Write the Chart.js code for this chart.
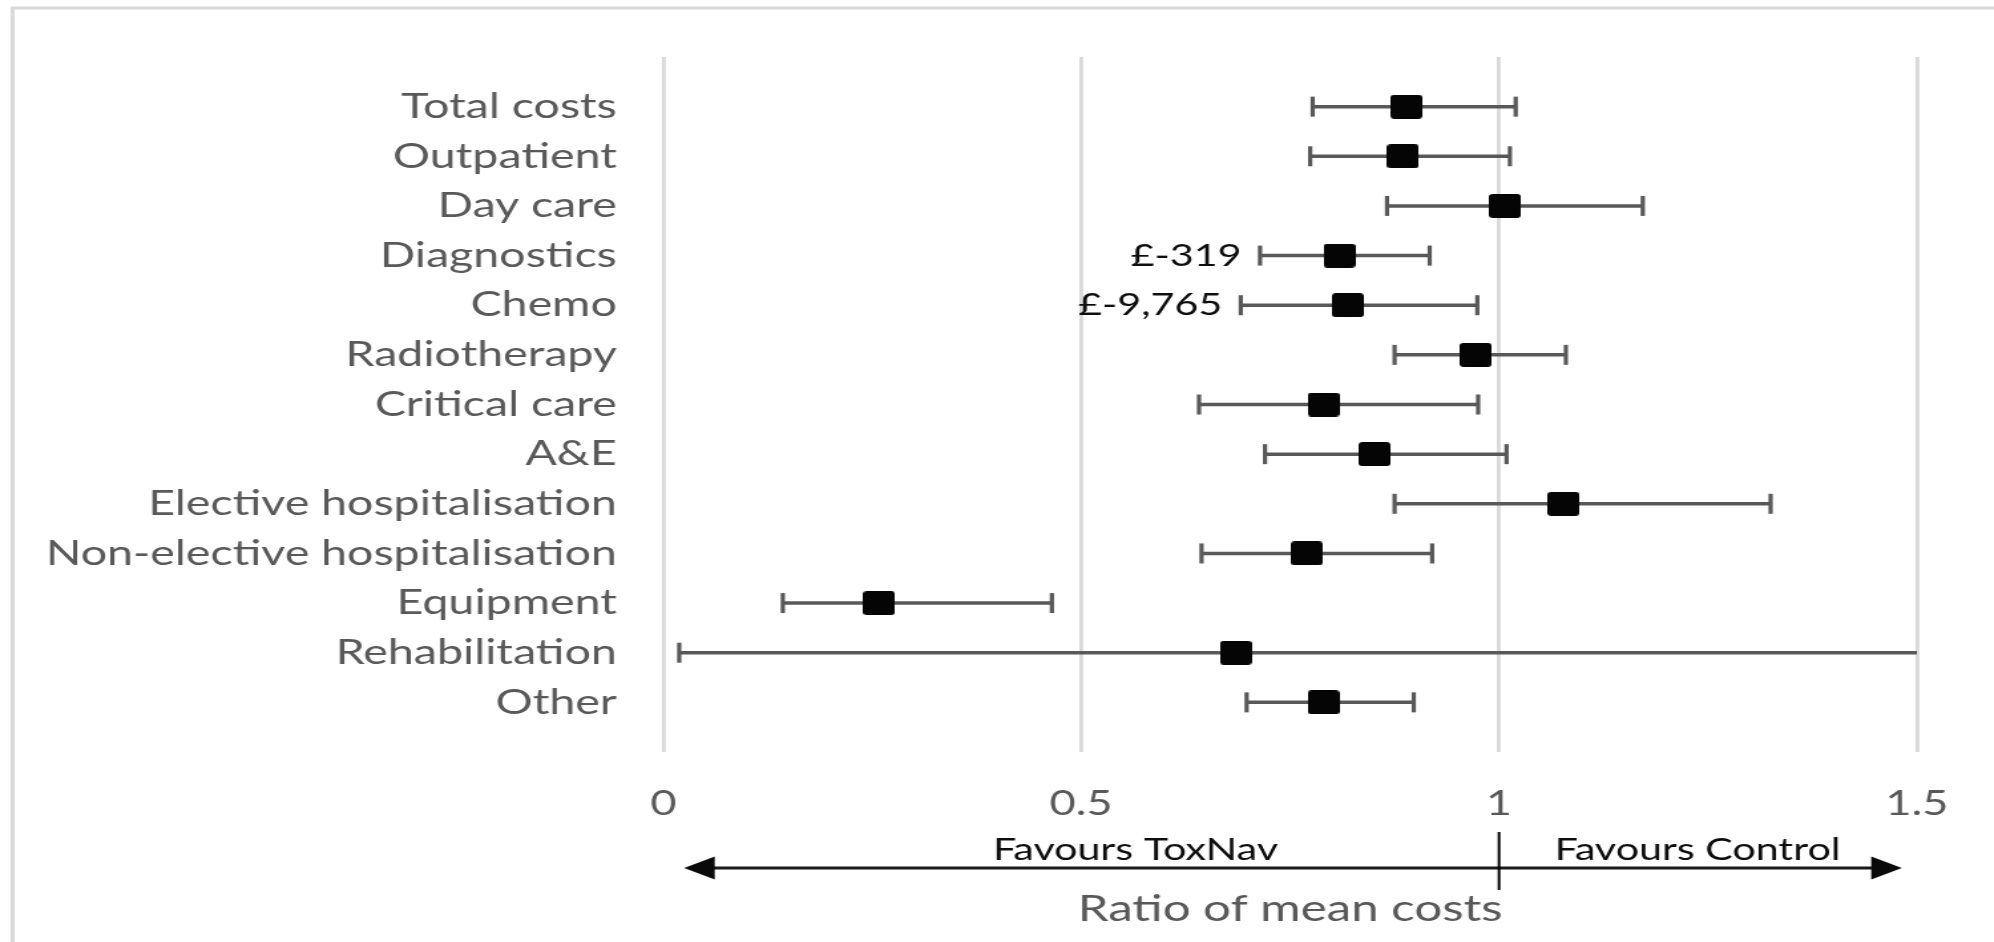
<!DOCTYPE html>
<html><head><meta charset="utf-8">
<script src="https://cdn.jsdelivr.net/npm/chart.js@4.4.1/dist/chart.umd.min.js"></script>
<style>
html,body{margin:0;padding:0;background:#fff;overflow:hidden;width:1994px;height:942px;}
#stretch{position:absolute;left:0;top:0;width:1500px;height:942px;transform:scaleX(1.3293);transform-origin:0 0;}
</style></head><body>
<div id="stretch"><canvas id="c"></canvas></div>
<script>
const categories = ['Total costs','Outpatient','Day care','Diagnostics','Chemo','Radiotherapy','Critical care','A&E','Elective hospitalisation','Non-elective hospitalisation','Equipment','Rehabilitation','Other'];
const ratio = [0.889,0.885,1.007,0.809,0.819,0.972,0.790,0.851,1.077,0.770,0.258,0.685,0.790];
const lower = [0.777,0.774,0.866,0.714,0.691,0.875,0.641,0.720,0.875,0.644,0.143,0.019,0.698];
const upper = [1.020,1.013,1.172,0.917,0.974,1.080,0.975,1.009,1.325,0.920,0.465,1.900,0.898];
const costLabels = ['','','','£-319','£-9,765','','','','','','','',''];
const xTicks = [0,0.5,1,1.5];
const axisTitle = 'Ratio of mean costs';
const favourLabels = ['Favours ToxNav','Favours Control'];

const n = categories.length;
const rowY = i => n - i;

const mk = document.createElement('canvas');
mk.width = 24; mk.height = 24;
(function(){const m = mk.getContext('2d'); m.fillStyle = '#050505'; m.beginPath();
  if (m.roundRect) m.roundRect(0,0,24,24,3); else m.rect(0,0,24,24); m.fill();})();

const ciData = [];
categories.forEach((c,i)=>{
  ciData.push({x: lower[i], y: rowY(i)});
  ciData.push({x: upper[i], y: rowY(i)});
  ciData.push({x: null, y: null});
});

const decor = {
  id: 'decor',
  beforeDraw(chart){
    const ctx = chart.ctx;
    ctx.save();
    ctx.fillStyle = '#fff'; ctx.fillRect(0,0,chart.width,chart.height);
    ctx.strokeStyle = '#d9d9d9'; ctx.lineWidth = 3;
    ctx.strokeRect(9.5, 8, chart.width + 50, chart.height + 50);
    ctx.restore();
  },
  afterDatasetsDraw(chart){
    const ctx = chart.ctx, x = chart.scales.x, y = chart.scales.y, area = chart.chartArea;
    ctx.save();
    ctx.font = '31px Lato'; ctx.fillStyle = '#0d0d0d'; ctx.textAlign = 'right'; ctx.textBaseline = 'middle';
    costLabels.forEach((t,i)=>{ if (!t) return; ctx.fillText(t, x.getPixelForValue(lower[i]) - 14, y.getPixelForValue(rowY(i))); });
    // direction arrow
    const ay = area.bottom + 116;
    const x1 = x.getPixelForValue(0.025), x2 = x.getPixelForValue(1.482);
    const hl = 23, hh = 11.5;
    ctx.strokeStyle = '#1a1a1a'; ctx.fillStyle = '#0a0a0a'; ctx.lineWidth = 3;
    ctx.beginPath(); ctx.moveTo(x1 + hl - 2, ay); ctx.lineTo(x2 - hl + 2, ay); ctx.stroke();
    ctx.beginPath(); ctx.moveTo(x1, ay); ctx.lineTo(x1 + hl, ay - hh); ctx.lineTo(x1 + hl, ay + hh); ctx.closePath(); ctx.fill();
    ctx.beginPath(); ctx.moveTo(x2, ay); ctx.lineTo(x2 - hl, ay - hh); ctx.lineTo(x2 - hl, ay + hh); ctx.closePath(); ctx.fill();
    const xm = x.getPixelForValue(1);
    ctx.lineWidth = 2; ctx.strokeStyle = '#000';
    ctx.beginPath(); ctx.moveTo(xm, area.bottom + 80); ctx.lineTo(xm, area.bottom + 138); ctx.stroke();
    ctx.font = '31px Lato'; ctx.fillStyle = '#0d0d0d'; ctx.textAlign = 'center'; ctx.textBaseline = 'alphabetic';
    ctx.fillText(favourLabels[0], x.getPixelForValue(0.565), area.bottom + 108);
    ctx.fillText(favourLabels[1], x.getPixelForValue(1.2375), area.bottom + 108);
    ctx.restore();
  }
};

new Chart(document.getElementById('c'), {
  type: 'scatter',
  data: {
    datasets: [
      {
        label: 'Ratio',
        data: categories.map((c,i)=>({x: ratio[i], y: rowY(i)})),
        pointStyle: mk,
        pointRadius: 12,
        pointHoverRadius: 12,
        showLine: false
      },
      {
        label: '95% CI',
        data: ciData,
        showLine: true,
        spanGaps: false,
        borderColor: '#595959',
        borderWidth: 3.5,
        pointStyle: 'line',
        rotation: 90,
        pointRadius: 10,
        pointHoverRadius: 10,
        pointBorderColor: '#595959',
        pointBorderWidth: 3.2,
        clip: 0
      }
    ]
  },
  options: {
    responsive: true,
    maintainAspectRatio: false,
    animation: false,
    events: [],
    layout: { padding: { top: 57, right: 58, bottom: 0, left: 0 } },
    plugins: { legend: { display: false }, tooltip: { enabled: false } },
    scales: {
      x: {
        type: 'linear', min: 0, max: 1.5,
        afterBuildTicks: s => { s.ticks = xTicks.map(v => ({value: v})); },
        afterFit: s => { s.height = 190; },
        grid: { color: '#d9d9d9', lineWidth: 2.8, drawTicks: false },
        border: { display: false },
        ticks: { color: '#595959', font: { family: 'Lato', size: 34 }, padding: 32,
                 callback: v => String(v) },
        title: { display: true, text: axisTitle, color: '#595959',
                 font: { family: 'Lato', size: 37 }, padding: { top: 0, bottom: 11 } }
      },
      y: {
        type: 'linear', min: 0, max: n + 1,
        afterBuildTicks: s => { s.ticks = categories.map((c,i)=>({value: rowY(i)})); },
        afterFit: s => { s.width = 499; },
        grid: { display: false, drawTicks: false },
        border: { display: false },
        ticks: { autoSkip: false, color: '#595959', font: { family: 'Lato', size: 35 }, padding: 35,
                 callback: v => categories[n - v] || '' }
      }
    }
  },
  plugins: [decor]
});
</script>
</body></html>
